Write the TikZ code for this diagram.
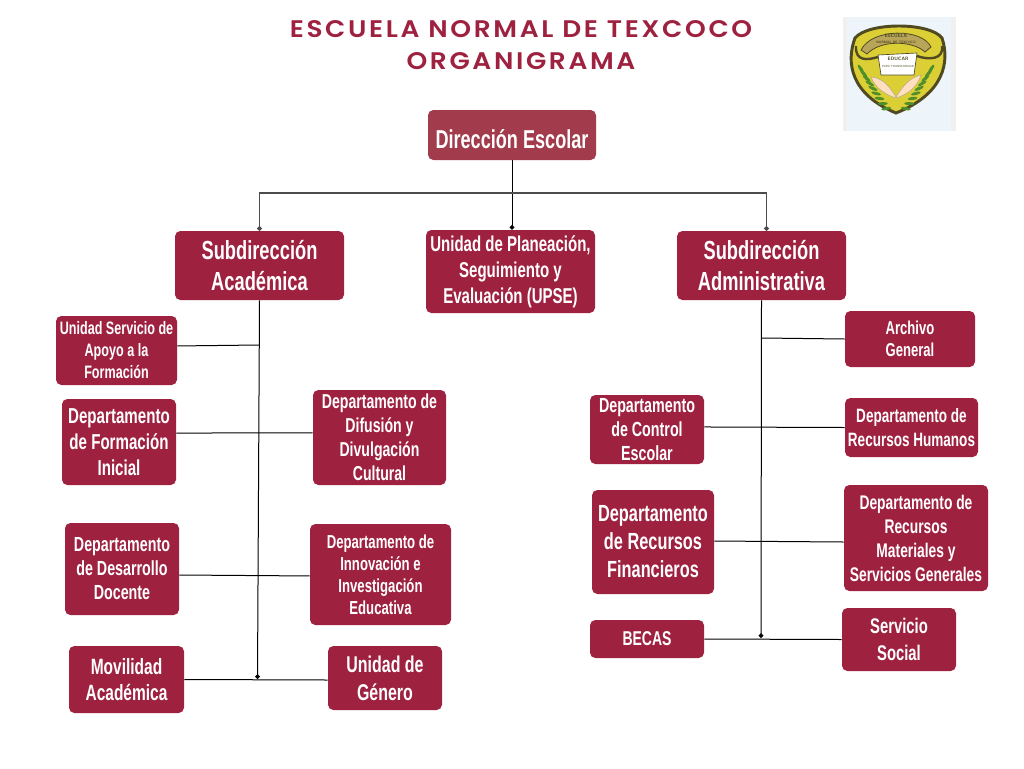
\documentclass[tikz,border=0pt]{standalone}
\usepackage{fontspec}
\usepackage{tikz}
\usetikzlibrary{arrows.meta}
\newfontfamily\boxfont{Liberation Sans}[FakeStretch=0.7,BoldFont={Liberation Sans Bold}]
\newfontfamily\titlefont{Poppins SemiBold}[FakeStretch=1.1,LetterSpace=11]
\definecolor{guinda}{HTML}{9E2140}
\definecolor{guindaclaro}{HTML}{A23B4C}
\definecolor{escudo}{HTML}{DCCF35}
\definecolor{olivo}{HTML}{4F4A22}
\definecolor{cinta}{HTML}{B9A55A}
\definecolor{laurel}{HTML}{4E8F2B}
\definecolor{fondologo}{HTML}{EEF5FA}
\tikzset{
  caja/.style 2 args={fill=guinda, rounded corners=4pt, text=white, align=center, inner sep=0pt, font=\boxfont\bfseries\fontsize{#1}{#2}\selectfont},
  enlace/.style={line width=0.75pt, black},
  punta/.style={enlace, -{Circle[length=3.5pt]}},
}
\begin{document}
\begin{tikzpicture}[x=0.75pt, y=-0.75pt]
\useasboundingbox (0, 0) rectangle (1024, 768);

\node[text=guinda, font=\titlefont\fontsize{18}{18}\selectfont] (titulo) at (521, 29) {ESCUELA NORMAL DE TEXCOCO};
\node[text=guinda, font=\titlefont\fontsize{18}{18}\selectfont] (subtitulo) at (521, 61) {ORGANIGRAMA};

\node[caja={19.4}{23}, fill=guindaclaro, minimum width=126pt, minimum height=37.5pt, text height=20pt] (direccion) at (512, 135) {Dirección Escolar};

\node[caja={19.6}{23}, minimum width=126.75pt, minimum height=51.75pt] (academica) at (259.5, 265.5) {Subdirección\\Académica};
\node[caja={16.1}{19.5}, minimum width=126.75pt, minimum height=62.25pt] (upse) at (510.5, 271.5) {Unidad de Planeación,\\Seguimiento y\\Evaluación (UPSE)};
\node[caja={19.6}{23}, minimum width=126.75pt, minimum height=51.75pt] (administrativa) at (761.5, 265.5) {Subdirección\\Administrativa};

\node[caja={13.5}{16.5}, minimum width=90.75pt, minimum height=51.75pt] (servicio apoyo) at (116.5, 350.5) {Unidad Servicio de\\Apoyo a la\\Formación};
\node[caja={16.2}{19.5}, minimum width=85.5pt, minimum height=64.5pt] (formacion) at (119, 442) {Departamento\\de Formación\\Inicial};
\node[caja={15.1}{18}, minimum width=99.75pt, minimum height=71.25pt] (difusion) at (379.5, 437.5) {Departamento de\\Difusión y\\Divulgación\\Cultural};
\node[caja={15.3}{18}, minimum width=85.5pt, minimum height=69pt] (desarrollo) at (122, 569) {Departamento\\de Desarrollo\\Docente};
\node[caja={14.1}{16.5}, minimum width=105.75pt, minimum height=75.75pt] (innovacion) at (380.5, 574.5) {Departamento de\\Innovación e\\Investigación\\Educativa};
\node[caja={16.6}{19.5}, minimum width=86.25pt, minimum height=50.25pt] (movilidad) at (126.5, 679.5) {Movilidad\\Académica};
\node[caja={17.1}{21}, minimum width=85.5pt, minimum height=48pt] (genero) at (385, 678) {Unidad de\\Género};

\node[caja={14}{16.5}, minimum width=97.5pt, minimum height=42pt] (archivo) at (910, 339) {Archivo\\General};
\node[caja={15.3}{18}, minimum width=85.5pt, minimum height=51.75pt] (control) at (647, 429.5) {Departamento\\de Control\\Escolar};
\node[caja={14.5}{18}, minimum width=99.75pt, minimum height=44.25pt] (humanos) at (911.5, 427.5) {Departamento de\\Recursos Humanos};
\node[caja={17.5}{21}, minimum width=91.5pt, minimum height=78pt] (financieros) at (653, 542) {Departamento\\de Recursos\\Financieros};
\node[caja={14.8}{18}, minimum width=108pt, minimum height=79.5pt] (materiales) at (916, 538) {Departamento de\\Recursos\\Materiales y\\Servicios Generales};
\node[caja={15}{18}, minimum width=85.5pt, minimum height=28.5pt] (becas) at (647, 639) {BECAS};
\node[caja={15.9}{20}, minimum width=85.5pt, minimum height=47.25pt] (social) at (899, 639.5) {Servicio\\Social};

\coordinate (barra) at (512, 193);
\coordinate (nudo academica) at (257.5, 679);
\coordinate (nudo administrativa) at (761, 638);
\coordinate (ramal apoyo) at (259, 345);
\coordinate (ramal archivo) at (762, 338);

\draw[punta] (direccion.south) -- (direccion.south |- upse.north);
\draw[punta, line width=1pt, black!70] (barra) -| (academica.north);
\draw[punta, line width=1pt, black!70] (barra) -| ([xshift=3.75pt] administrativa.north);

\draw[punta] (academica.south) -- (nudo academica);
\draw[punta] (administrativa.south) -- (nudo administrativa);

\draw[enlace] ([yshift=3.4pt] servicio apoyo.east) -- (ramal apoyo);
\draw[enlace] ([yshift=6.75pt] formacion.east) -- ([yshift=3.4pt] difusion.west);
\draw[enlace] ([yshift=-4.5pt] desarrollo.east) -- ([yshift=-1.1pt] innovacion.west);
\draw[enlace] (movilidad.east) -- ([yshift=-1.5pt] genero.west);

\draw[enlace] (archivo.west) -- (ramal archivo);
\draw[enlace] ([yshift=1.9pt] control.east) -- (humanos.west);
\draw[enlace] ([yshift=0.75pt] financieros.east) -- ([yshift=-3pt] materiales.west);
\draw[enlace] (becas.east) -- (social.west);

\fill[black!6] (843, 17) rectangle (956, 131);
\fill[fondologo] (847, 17) rectangle (951, 131);
\path[fill=escudo, draw=olivo, line width=2.2pt] (855, 38) .. controls (868, 22) and (930, 22) .. (942, 38) .. controls (950, 62) and (944, 94) .. (896, 113) .. controls (850, 94) and (846, 62) .. (855, 38) -- cycle;
\path[fill=cinta, draw=olivo, line width=0.6pt] (861, 50) .. controls (872, 28) and (922, 28) .. (931, 47) -- (925, 52) .. controls (912, 40) and (880, 40) .. (867, 54) -- cycle;
\draw[olivo, line width=1.8pt] (856, 46) .. controls (855, 62) and (868, 60) .. (878, 57);
\draw[olivo, line width=1.8pt] (942, 46) .. controls (944, 60) and (928, 60) .. (917, 56);
\path[fill=white, draw=olivo, line width=0.5pt] (878, 55) -- (917, 53) -- (914, 75) -- (881, 75) -- cycle;
\node[font=\sffamily\bfseries\fontsize{3.6}{3.6}\selectfont, text=olivo] (lema escudo) at (898, 59) {EDUCAR};
\node[font=\sffamily\fontsize{2.2}{2.2}\selectfont, text=olivo] (lema pie) at (898, 66) {PARA TRANSFORMAR};
\node[font=\sffamily\bfseries\fontsize{3.6}{3.6}\selectfont, text=olivo] (nombre escudo) at (896, 36) {ESCUELA};
\node[font=\sffamily\bfseries\fontsize{2.5}{2.5}\selectfont, text=olivo] (nombre pie) at (896, 42) {NORMAL DE TEXCOCO};
\path[fill=orange!25!white, draw=olivo!50, line width=0.3pt] (871, 77) .. controls (884, 78) and (890, 88) .. (896, 97) .. controls (902, 88) and (908, 78) .. (921, 75) .. controls (917, 88) and (906, 95) .. (896, 98) .. controls (886, 95) and (875, 88) .. (871, 77) -- cycle;
\foreach \i in {0,...,8} {
  \fill[laurel, rotate around={-55+\i*8:(863+\i*3.4, 72+\i*4.5)}] (863+\i*3.4-4, 72+\i*4.5) ellipse (5 and 1.6);
  \fill[laurel, rotate around={55-\i*8:(929-\i*3.4, 72+\i*4.5)}] (929-\i*3.4+4, 72+\i*4.5) ellipse (5 and 1.6);
}
\end{tikzpicture}
\end{document}
